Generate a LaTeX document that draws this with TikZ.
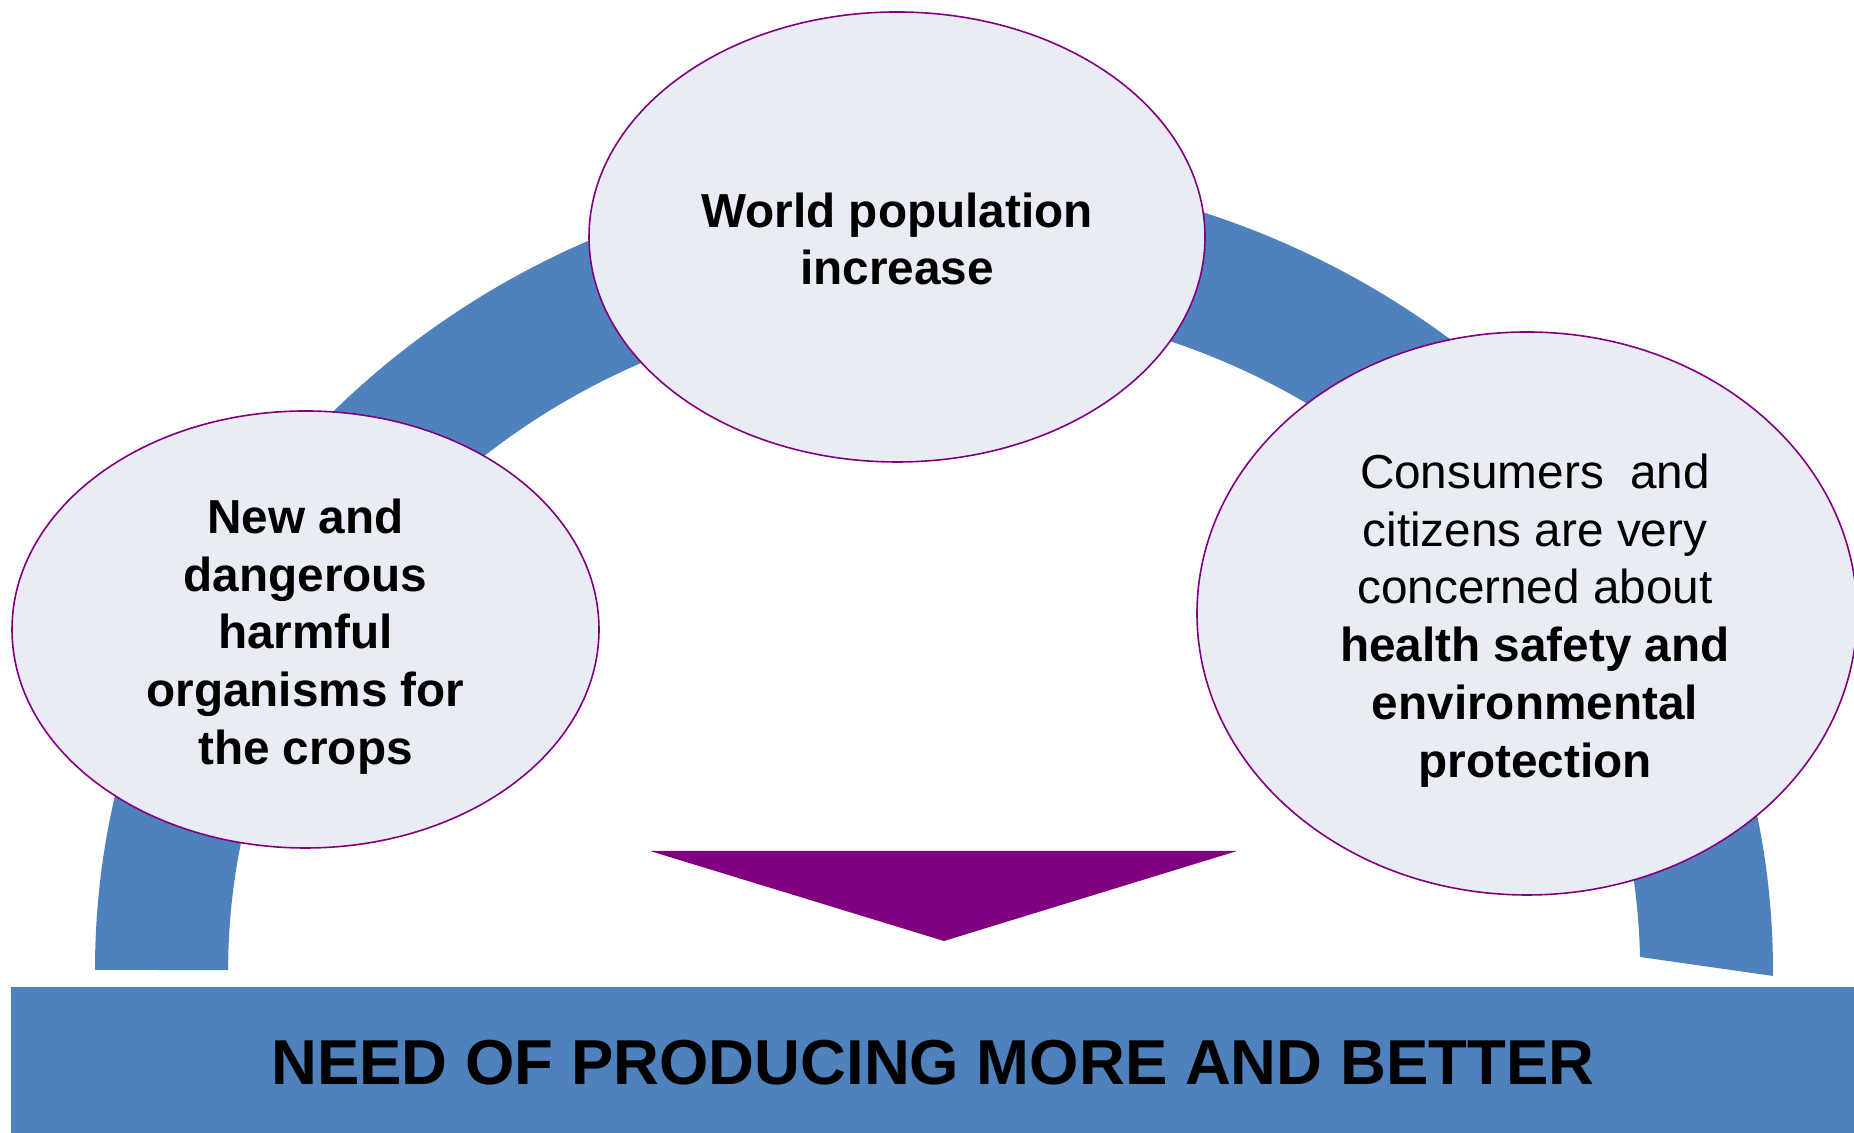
\documentclass[tikz,border=0pt]{standalone}
\usepackage{fontspec}
\setmainfont{Liberation Sans}
\usetikzlibrary{shapes.geometric}
\definecolor{bandblue}{HTML}{4F81BD}
\definecolor{ovalfill}{HTML}{E9ECF4}
\definecolor{plum}{HTML}{800080}
\begin{document}
\begin{tikzpicture}[x=0.5pt,y=0.5pt,
  oval/.style={ellipse, draw=plum, line width=0.8pt, fill=ovalfill, inner sep=0pt},
  ovaltext/.style={align=center, text=black, inner sep=0pt,
    font=\fontsize{23.85}{28.85}\selectfont},
  barbox/.style={rectangle, fill=bandblue, inner sep=0pt, anchor=south west},
  bartext/.style={font=\bfseries\fontsize{31.75}{38}\selectfont, text=black, inner sep=0pt}]
\useasboundingbox (0,0) rectangle (1854,1133);
\clip (0,0) rectangle (1854,1133);
% blue arc band
\fill[bandblue] (95,163) arc[start angle=180, end angle=-0.43, x radius=839, y radius=800]
  -- (1640,176) arc[start angle=1.12, end angle=180, x radius=706, y radius=667] -- cycle;
% ovals
\node[oval, minimum width=308pt, minimum height=225pt] (world) at (897,896) {};
\node[oval, minimum width=293.5pt, minimum height=218.5pt] (pests) at (305.5,503.5) {};
\node[oval, minimum width=330pt, minimum height=281.5pt] (consumers) at (1527,519.5) {};
% oval texts
\node[ovaltext] (worldtext) at ([shift={(0,-2)}]world.center)
  {\bfseries World population\\\bfseries increase};
\node[ovaltext] (peststext) at ([shift={(0,-7)}]pests.center)
  {\bfseries New and\\\bfseries dangerous\\\bfseries harmful\\\bfseries organisms for\\\bfseries the crops};
\node[ovaltext] (consumerstext) at ([shift={(8,-7)}]consumers.center)
  {Consumers\ \ and\\citizens are very\\concerned about\\\bfseries health safety and\\\bfseries environmental\\\bfseries protection};
% purple arrow head
\coordinate (tl) at (650,282);
\coordinate (tr) at (1237,282);
\coordinate (tip) at (944,192);
\fill[plum] (tl) -- (tr) -- (tip) -- cycle;
% bottom bar
\node[barbox, minimum width=921.5pt, minimum height=73pt] (bar) at (11,0) {};
\node[bartext] (need) at ([shift={(0,-3)}]bar.center) {NEED OF PRODUCING MORE AND BETTER};
\end{tikzpicture}
\end{document}
